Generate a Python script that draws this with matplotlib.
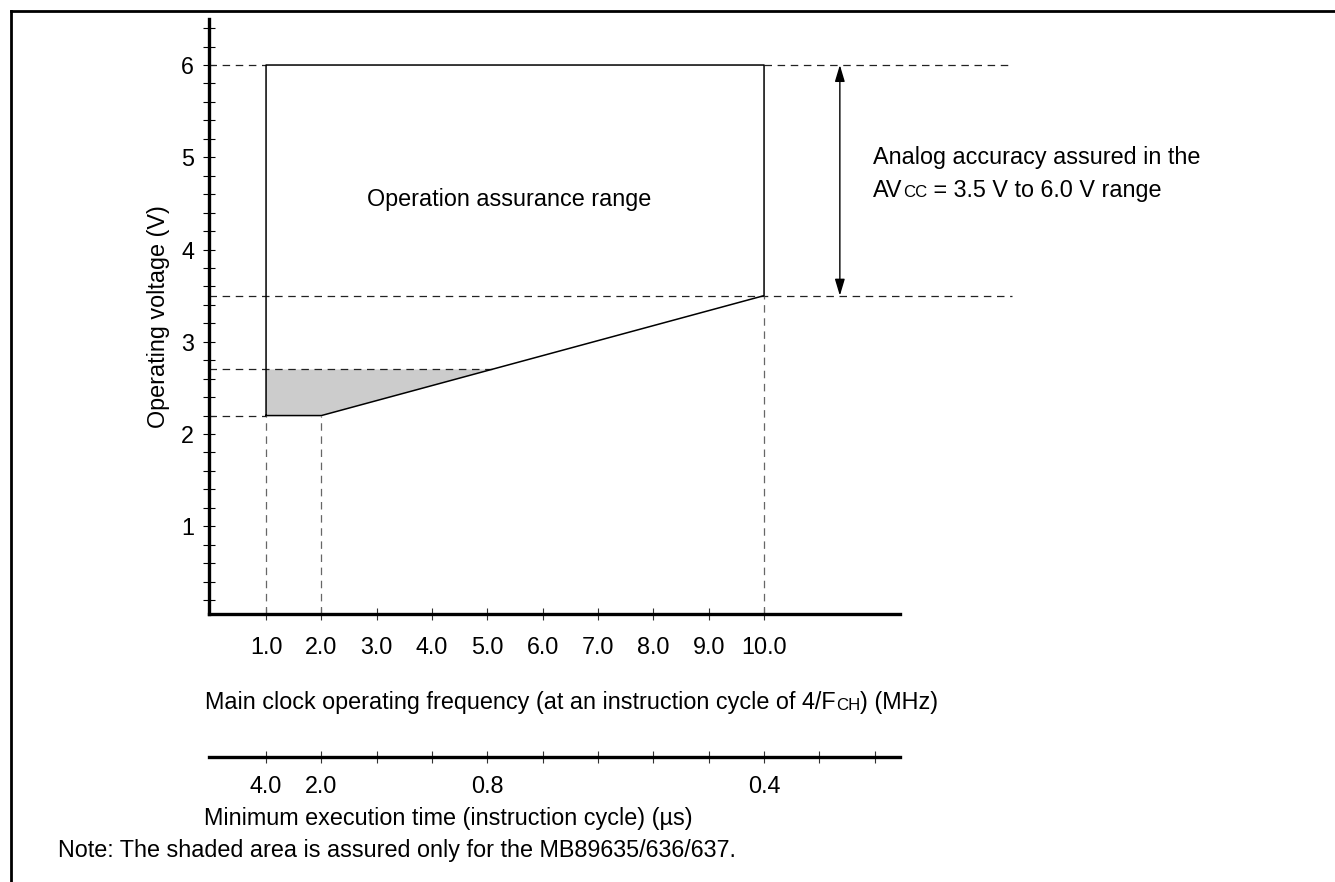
import matplotlib
matplotlib.use("Agg")
import matplotlib.pyplot as plt
from matplotlib.lines import Line2D

plt.rcParams['font.family'] = ['Liberation Sans', 'DejaVu Sans']

# ---------------- data ----------------
freq_ticks = [1, 2, 3, 4, 5, 6, 7, 8, 9, 10]
freq_labels = ["1.0", "2.0", "3.0", "4.0", "5.0", "6.0", "7.0", "8.0", "9.0", "10.0"]
volt_ticks = [1, 2, 3, 4, 5, 6]
volt_minor = [0.2, 0.4, 0.6, 0.8, 1.2, 1.4, 1.6, 1.8, 2.2, 2.4, 2.6, 2.8,
              3.2, 3.4, 3.6, 3.8, 4.2, 4.4, 4.6, 4.8, 5.2, 5.4, 5.6, 5.8, 6.2, 6.4]
exec_tick_pos = [1, 2, 3, 4, 5, 6, 7, 8, 9, 10, 11, 12]
exec_tick_labels = ["4.0", "2.0", "", "", "0.8", "", "", "", "", "0.4", "", ""]

# operation range outline (MHz, V)
outline_f = [1, 1, 10, 10, 2, 1]
outline_v = [2.2, 6.0, 6.0, 3.5, 2.2, 2.2]
v_max = 6.0
v_analog_low = 3.5
v_shade_top = 2.7
v_min = 2.2
f_min = 1.0
f_knee = 2.0
f_max = 10.0
f_dash_end = 14.48
f_arrow = 11.37

# ---------------- figure ----------------
W, H = 1335, 882
fig = plt.figure(figsize=(W / 100, H / 100), dpi=100)


def fx(px):
    return px / W


def fy(py):
    return 1 - py / H


FS = 16.8
SMALL = FS * 0.72
ax = fig.add_axes([fx(209), fy(614.3), fx(900) - fx(209), fy(18.9) - fy(614.3)])
ax.set_xlim(-0.031, 12.457)
ax.set_ylim(0.0455, 6.50)
for s in ['top', 'right']:
    ax.spines[s].set_visible(False)
for s in ['left', 'bottom']:
    ax.spines[s].set_linewidth(2.4)
ax.set_xticks(freq_ticks)
ax.set_xticklabels(freq_labels, fontsize=FS)
ax.set_yticks(volt_ticks)
ax.set_yticklabels([str(v) for v in volt_ticks], fontsize=FS)
ax.set_yticks(volt_minor, minor=True)
ax.tick_params(axis='x', which='both', direction='inout', length=8.6, width=0.8,
               color='#333333', pad=11.5)
ax.tick_params(axis='y', which='both', direction='inout', length=8.6, width=0.8,
               color='black', pad=6.5)

# shaded area: between v_min and v_shade_top, left of slanted line
slope = (v_analog_low - v_min) / (f_max - f_knee)
f_cross = f_knee + (v_shade_top - v_min) / slope
ax.fill([f_min, f_knee, f_cross, f_min], [v_min, v_min, v_shade_top, v_shade_top],
        color='#cccccc', zorder=1, lw=0)
ax.plot(outline_f, outline_v, color='black', lw=1.1, clip_on=False, zorder=3)

dash = dict(lw=0.9, linestyle=(0, (6, 4.5)), clip_on=False)
x0 = ax.get_xlim()[0]
ax.plot([x0, f_min], [v_max, v_max], color='#222222', **dash)
ax.plot([f_max, f_dash_end], [v_max, v_max], color='#222222', **dash)
ax.plot([x0, f_dash_end], [v_analog_low, v_analog_low], color='#222222', **dash)
ax.plot([x0, f_cross], [v_shade_top, v_shade_top], color='#222222', **dash)
ax.plot([x0, f_min], [v_min, v_min], color='#222222', **dash)
y0 = ax.get_ylim()[0]
ax.plot([f_min, f_min], [y0, v_min], color='#666666', **dash)
ax.plot([f_knee, f_knee], [y0, v_min], color='#666666', **dash)
ax.plot([f_max, f_max], [y0, v_analog_low], color='#666666', **dash)

# double arrow
ax.annotate('', xy=(f_arrow, v_max), xytext=(f_arrow, v_analog_low),
            arrowprops=dict(arrowstyle='<|-|>,head_length=1.0,head_width=0.3',
                            color='black', lw=1.0, shrinkA=0, shrinkB=0,
                            mutation_scale=10),
            annotation_clip=False)

ax.text(5.39, 4.54, "Operation assurance range", fontsize=FS, ha='center', va='center')

# analog text
ax.text(11.97, 5.0, "Analog accuracy assured in the", fontsize=FS,
        ha='left', va='center', clip_on=False)
ta = ax.text(11.97, 4.645, "AV", fontsize=FS, ha='left', va='center', clip_on=False)
tb = ax.annotate("CC", xy=(1, 0), xycoords=ta, fontsize=SMALL,
                 ha='left', va='bottom', xytext=(0.5, 1.0), textcoords='offset points')
ax.annotate(" = 3.5 V to 6.0 V range", xy=(1, 0), xycoords=(tb, ta), fontsize=FS,
            ha='left', va='bottom')

ax.set_ylabel("Operating voltage (V)", fontsize=FS, labelpad=8)

# xlabel with small caps
xl1 = fig.text(fx(205), fy(703), "Main clock operating frequency (at an instruction cycle of 4/F",
               fontsize=FS, ha='left', va='center')
xl2 = ax.annotate("CH", xy=(1, 0), xycoords=xl1, fontsize=SMALL,
                  ha='left', va='bottom', xytext=(0.3, 1.0), textcoords='offset points')
ax.annotate(") (MHz)", xy=(1, 0), xycoords=(xl2, xl1), fontsize=FS,
            ha='left', va='bottom')

# second axis: minimum execution time
ax2 = fig.add_axes([fx(209), fy(757), fx(900) - fx(209), 0.0005])
ax2.set_xlim(ax.get_xlim())
for s in ['top', 'right', 'left']:
    ax2.spines[s].set_visible(False)
ax2.spines['bottom'].set_linewidth(2.4)
ax2.set_yticks([])
ax2.set_xticks(exec_tick_pos)
ax2.set_xticklabels(exec_tick_labels, fontsize=FS)
ax2.tick_params(axis='x', which='major', direction='inout', length=8, width=0.8,
                color='#333333', pad=9)
ax2.patch.set_visible(False)

fig.text(fx(204), fy(818), "Minimum execution time (instruction cycle) (\u00b5s)",
         fontsize=FS, ha='left', va='center')
fig.text(fx(58), fy(850), "Note: The shaded area is assured only for the MB89635/636/637.",
         fontsize=FS, ha='left', va='center')

# frame
fig.add_artist(Line2D([fx(11), fx(1335)], [fy(11), fy(11)], color='black', lw=2.0,
                      transform=fig.transFigure))
fig.add_artist(Line2D([fx(11), fx(11)], [fy(11), fy(882)], color='black', lw=2.0,
                      transform=fig.transFigure))

fig.savefig("out.png", dpi=100)
